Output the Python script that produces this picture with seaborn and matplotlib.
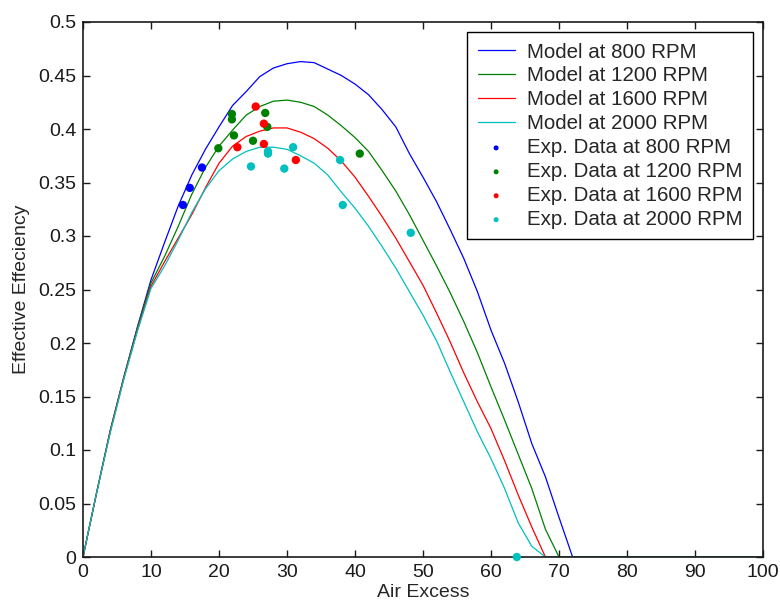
import matplotlib
matplotlib.use("Agg")
import matplotlib.pyplot as plt
import seaborn as sns
import numpy as np
from matplotlib.ticker import FuncFormatter

# ---------------- data ----------------
air_excess = [0, 2, 4, 6, 8, 10, 12, 14, 16, 18, 20, 22, 24, 26, 28, 30, 32, 34, 36, 38,
              40, 42, 44, 46, 48, 50, 52, 54, 56, 58, 60, 62, 64, 66, 68, 70, 72, 100]

model_800 = [0, 0.060, 0.118, 0.168, 0.215, 0.259, 0.294, 0.328, 0.357, 0.381, 0.402, 0.422,
             0.435, 0.449, 0.457, 0.461, 0.463, 0.462, 0.456, 0.450, 0.442, 0.432, 0.418,
             0.402, 0.377, 0.355, 0.332, 0.306, 0.279, 0.248, 0.212, 0.181, 0.145, 0.106,
             0.075, 0.037, 0.0, 0.0]
model_1200 = [0, 0.060, 0.118, 0.168, 0.214, 0.256, 0.281, 0.309, 0.339, 0.364, 0.384, 0.399,
              0.413, 0.421, 0.426, 0.427, 0.425, 0.421, 0.413, 0.403, 0.392, 0.379, 0.361,
              0.342, 0.320, 0.296, 0.272, 0.247, 0.220, 0.191, 0.159, 0.128, 0.096, 0.064,
              0.026, 0.0, 0.0, 0.0]
model_1600 = [0, 0.060, 0.117, 0.167, 0.212, 0.253, 0.276, 0.298, 0.320, 0.345, 0.368, 0.384,
              0.393, 0.398, 0.401, 0.401, 0.397, 0.391, 0.382, 0.370, 0.355, 0.337, 0.318,
              0.298, 0.276, 0.254, 0.228, 0.201, 0.172, 0.145, 0.120, 0.090, 0.058, 0.028,
              0.0, 0.0, 0.0, 0.0]
model_2000 = [0, 0.060, 0.116, 0.166, 0.211, 0.251, 0.272, 0.296, 0.322, 0.344, 0.361, 0.372,
              0.379, 0.383, 0.383, 0.381, 0.375, 0.368, 0.357, 0.341, 0.326, 0.309, 0.290,
              0.270, 0.248, 0.226, 0.202, 0.173, 0.145, 0.117, 0.092, 0.064, 0.032, 0.010,
              0.0, 0.0, 0.0, 0.0]

exp_800_x = [14.7, 15.7, 17.5]
exp_800_y = [0.329, 0.345, 0.364]
exp_1200_x = [19.9, 21.9, 21.9, 22.2, 25.0, 26.8, 27.1, 40.7]
exp_1200_y = [0.382, 0.414, 0.409, 0.394, 0.389, 0.415, 0.402, 0.377]
exp_1600_x = [25.4, 26.6, 22.7, 26.6, 31.3]
exp_1600_y = [0.421, 0.405, 0.383, 0.386, 0.371]
exp_2000_x = [30.9, 27.2, 27.2, 24.7, 29.6, 37.8, 38.2, 48.2, 63.8]
exp_2000_y = [0.383, 0.379, 0.377, 0.365, 0.363, 0.371, 0.329, 0.303, 0.0]

model_labels = ["Model at 800 RPM", "Model at 1200 RPM", "Model at 1600 RPM", "Model at 2000 RPM"]
exp_labels = ["Exp. Data at 800 RPM", "Exp. Data at 1200 RPM", "Exp. Data at 1600 RPM",
              "Exp. Data at 2000 RPM"]
colors = ["#0000ff", "#008000", "#ff0000", "#00bfbf"]

x_ticks = [0, 10, 20, 30, 40, 50, 60, 70, 80, 90, 100]
y_ticks = [0, 0.05, 0.1, 0.15, 0.2, 0.25, 0.3, 0.35, 0.4, 0.45, 0.5]

# ---------------- plot ----------------
sns.set_style("ticks")
plt.rcParams['font.family'] = ['Liberation Sans', 'DejaVu Sans']

fig = plt.figure(figsize=(7.8, 6.1), dpi=100)
ax = fig.add_axes([83/780, 1 - 557/610, (763-83)/780, (557-22)/610])

models = [model_800, model_1200, model_1600, model_2000]
for ys, c, lab in zip(models, colors, model_labels):
    sns.lineplot(x=air_excess, y=ys, color=c, linewidth=0.9, label=lab, ax=ax,
                 estimator=None, sort=False)

exps = [(exp_800_x, exp_800_y), (exp_1200_x, exp_1200_y), (exp_1600_x, exp_1600_y),
        (exp_2000_x, exp_2000_y)]
for (xs, ys), c, lab in zip(exps, colors, exp_labels):
    sns.scatterplot(x=xs, y=ys, color=c, s=36, edgecolor='none', label=lab, ax=ax,
                    zorder=4, clip_on=False)

ax.set_xlim(0, 100)
ax.set_ylim(0, 0.5)
ax.set_xticks(x_ticks)
ax.set_yticks(y_ticks)
ax.xaxis.set_major_formatter(FuncFormatter(lambda v, p: f"{v:g}"))
ax.yaxis.set_major_formatter(FuncFormatter(lambda v, p: f"{v:g}"))
ax.tick_params(direction='in', length=5, width=1, top=True, right=True,
               labelsize=14, pad=5, colors='#1a1a1a')
for sp in ax.spines.values():
    sp.set_visible(True)
    sp.set_linewidth(1.2)
    sp.set_color('#1a1a1a')

ax.set_xlabel("Air Excess", fontsize=14, labelpad=2)
ax.set_ylabel("Effective Effeciency", fontsize=14, labelpad=6)

leg = ax.legend(loc='upper right', fontsize=14.8, frameon=True, fancybox=False,
                edgecolor='black', framealpha=1, borderaxespad=0.5,
                labelspacing=0.24, handlelength=1.8, handletextpad=0.6,
                borderpad=0.5, markerscale=0.6)
leg.get_frame().set_linewidth(1.0)

fig.savefig("out.png", dpi=100)
